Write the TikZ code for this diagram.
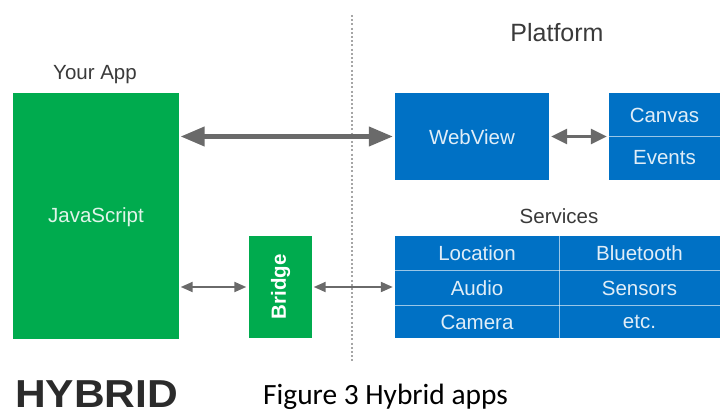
\documentclass[tikz,border=0pt]{standalone}
\usepackage{fontspec}
\setmainfont{Liberation Sans}
\newfontfamily\capfont{Carlito}
\usetikzlibrary{arrows.meta,positioning}
\definecolor{appgreen}{HTML}{00AB4E}
\definecolor{platblue}{HTML}{0071C5}
\definecolor{arrowgray}{HTML}{6A6A6A}
\definecolor{labelgray}{HTML}{3A3A3A}
\definecolor{titlegray}{HTML}{2B2B2B}
\begin{document}
\begin{tikzpicture}[x=1pt,y=-1pt,
  txt/.style={font=\fontsize{20.5}{24}\selectfont},
  boxtxt/.style={txt,text=white,text opacity=0.88},
  greenbox/.style={fill=appgreen,draw=none,inner sep=0pt},
  bluebox/.style={fill=platblue,draw=none,inner sep=0pt},
  cellline/.style={draw=white,draw opacity=0.6,line width=1pt},
  bigarrow/.style={draw=arrowgray,line width=4.2pt,
    {Triangle[length=24pt,width=19pt]}-{Triangle[length=24pt,width=19pt]},
    shorten <=2pt,shorten >=2pt},
  midarrow/.style={draw=arrowgray,line width=3pt,
    {Triangle[length=16pt,width=15pt]}-{Triangle[length=16pt,width=15pt]},
    shorten <=2pt,shorten >=2pt},
  smallarrow/.style={draw=arrowgray,line width=2pt,
    {Triangle[length=12pt,width=10pt]}-{Triangle[length=12pt,width=10pt]},
    shorten <=2pt,shorten >=2pt}]
\useasboundingbox (0,0) rectangle (720,412);

% separator between app and platform
\draw[gray!70,line width=1.6pt,dash pattern=on 2pt off 2.2pt] (352,15) -- (352,362);

% app side
\node[txt,text=labelgray] (yourapp) at (95,75) {Your App};
\node[greenbox,minimum width=166pt,minimum height=246pt] (js) at (95.5,216) {};
\node[boxtxt] (jstxt) at (96,217) {JavaScript};
\node[greenbox,minimum width=63pt,minimum height=102pt] (br) at (280,287) {};
\node[txt,text=white,font=\fontsize{20.5}{24}\selectfont\bfseries,rotate=90] (brtxt) at (280.5,287) {Bridge};

% platform side
\node[font=\fontsize{25}{28}\selectfont,text=labelgray] (platform) at (557,33) {Platform};
\node[bluebox,minimum width=154pt,minimum height=87pt] (wv) at (472,136.5) {};
\node[boxtxt] (wvtxt) at (472,137) {WebView};
\node[bluebox,minimum width=111pt,minimum height=87pt] (cv) at (664.5,136.5) {};
\draw[cellline] (cv.west) -- (cv.east);
\node[boxtxt] (canvas) at (664.5,115) {Canvas};
\node[boxtxt] (events) at (664.5,158) {Events};

\node[txt,text=labelgray] (services) at (559,216) {Services};
\node[bluebox,minimum width=325pt,minimum height=102pt] (svc) at (557.5,287) {};
\draw[cellline] (svc.north -| 559,0) -- (svc.south -| 559,0);
\draw[cellline] (svc.west |- 0,270.5) -- (svc.east |- 0,270.5);
\draw[cellline] (svc.west |- 0,305.5) -- (svc.east |- 0,305.5);
\node[boxtxt] (loc) at (477,253) {Location};
\node[boxtxt] (blue) at (639.5,253) {Bluetooth};
\node[boxtxt] (aud) at (477,288) {Audio};
\node[boxtxt] (sens) at (639.5,288) {Sensors};
\node[boxtxt] (cam) at (477,322) {Camera};
\node[boxtxt] (etc) at (639.5,322) {etc.};

% connectors
\draw[bigarrow] (js.east |- wv.west) -- (wv.west);
\draw[midarrow] (wv.east) -- (cv.west);
\draw[smallarrow] (js.east |- br.west) -- (br.west);
\draw[smallarrow] (br.east) -- (svc.west |- br.east);

% footer
\node[anchor=base west,inner sep=0pt,text=titlegray,
  font=\fontsize{39}{42}\selectfont\bfseries] (hybrid) at (15,407.5) {\scalebox{1.09}[1]{HYBRID}};
\node[anchor=base west,inner sep=0pt,text=black,
  font=\capfont\fontsize{29.4}{32}\selectfont] (caption) at (263,404) {Figure 3 Hybrid apps};
\end{tikzpicture}
\end{document}
